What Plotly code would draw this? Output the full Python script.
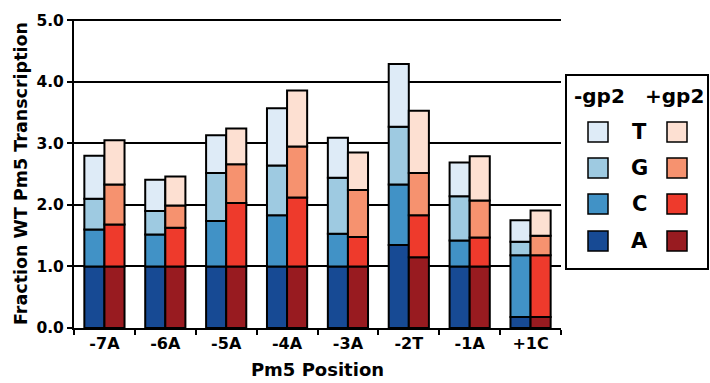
import numpy as np
import plotly.graph_objects as go

positions = ["-7A", "-6A", "-5A", "-4A", "-3A", "-2T", "-1A", "+1C"]
nucleotides = ["A", "C", "G", "T"]

# cumulative tops of each stacked segment (A, C, G, T)
minus_A = [1.00, 1.00, 1.00, 1.00, 1.00, 1.35, 1.00, 0.18]
minus_C = [1.60, 1.52, 1.74, 1.83, 1.53, 2.33, 1.42, 1.18]
minus_G = [2.10, 1.90, 2.52, 2.64, 2.44, 3.27, 2.14, 1.40]
minus_T = [2.80, 2.41, 3.13, 3.57, 3.09, 4.29, 2.69, 1.75]

plus_A = [1.00, 1.00, 1.00, 1.00, 1.00, 1.15, 1.00, 0.18]
plus_C = [1.68, 1.63, 2.03, 2.12, 1.48, 1.83, 1.47, 1.18]
plus_G = [2.33, 1.99, 2.66, 2.95, 2.24, 2.52, 2.07, 1.50]
plus_T = [3.05, 2.46, 3.24, 3.86, 2.85, 3.53, 2.79, 1.91]

blue_colors = ["#174a94", "#4192c6", "#9ecae1", "#deebf7"]
red_colors = ["#981b20", "#ee3a2c", "#f6926f", "#fde0d2"]

y_ticks = [0, 1, 2, 3, 4, 5]

fig = go.Figure()

def add_group(tops, colors, group):
    tops = np.array(tops)
    bases = np.vstack([np.zeros(len(positions)), tops[:-1]])
    for i, nt in enumerate(nucleotides):
        fig.add_trace(go.Bar(
            x=positions, y=tops[i] - bases[i], base=bases[i],
            offsetgroup=group, name=f"{group} {nt}",
            marker=dict(color=colors[i], line=dict(color="black", width=2)),
            showlegend=False,
        ))

add_group([minus_A, minus_C, minus_G, minus_T], blue_colors, "-gp2")
add_group([plus_A, plus_C, plus_G, plus_T], red_colors, "+gp2")

font_family = "DejaVu Sans, Arial, sans-serif"

fig.update_layout(
    width=710, height=383,
    margin=dict(l=74, r=149, t=19, b=55),
    paper_bgcolor="white", plot_bgcolor="white",
    barmode="group", bargap=0.34, bargroupgap=0.0,
    font=dict(family=font_family, color="black", size=16),
    xaxis=dict(
        automargin=False,
        showline=True, linecolor="black", linewidth=2,
        ticks="outside", tickson="boundaries", ticklen=5, tickwidth=2, tickcolor="black",
        tickfont=dict(size=16, family=font_family, weight="bold"),
        title=dict(text="<b>Pm5 Position</b>", font=dict(size=18), standoff=11),
    ),
    yaxis=dict(
        automargin=False,
        range=[0, 5.02], tickvals=y_ticks, tickformat=".1f",
        showline=True, linecolor="black", linewidth=2,
        ticks="outside", ticklen=5, tickwidth=2, tickcolor="black",
        showgrid=True, gridcolor="black", gridwidth=2, zeroline=False,
        tickfont=dict(size=15.5, family=font_family, weight="bold"),
        title=dict(text="<b>Fraction WT Pm5 Transcription</b>", font=dict(size=17.5), standoff=4),
    ),
)

def px_x(x):
    return (x - 74) / 487

def px_y(y):
    return (328 - y) / 309

# manual legend box
fig.add_shape(type="rect", xref="paper", yref="paper",
              x0=px_x(566), x1=px_x(708), y0=px_y(269), y1=px_y(75),
              line=dict(color="black", width=2), fillcolor="white")

fig.add_annotation(x=px_x(599), y=px_y(96), xref="paper", yref="paper",
                   text="<b>-gp2</b>", showarrow=False, font=dict(size=20),
                   xanchor="center", yanchor="middle")
fig.add_annotation(x=px_x(674), y=px_y(96), xref="paper", yref="paper",
                   text="<b>+gp2</b>", showarrow=False, font=dict(size=20),
                   xanchor="center", yanchor="middle")

row_y = [241, 204, 168, 132]
for i, nt in enumerate(nucleotides):
    yc = row_y[i]
    fig.add_shape(type="rect", xref="paper", yref="paper",
                  x0=px_x(588), x1=px_x(608), y0=px_y(yc + 10), y1=px_y(yc - 10),
                  line=dict(color="black", width=1.5), fillcolor=blue_colors[i])
    fig.add_shape(type="rect", xref="paper", yref="paper",
                  x0=px_x(667), x1=px_x(687), y0=px_y(yc + 10), y1=px_y(yc - 10),
                  line=dict(color="black", width=1.5), fillcolor=red_colors[i])
    fig.add_annotation(x=px_x(639), y=px_y(yc), xref="paper", yref="paper",
                       text=f"<b>{nt}</b>", showarrow=False, font=dict(size=21),
                       xanchor="center", yanchor="middle")

fig.write_html("out.html")
